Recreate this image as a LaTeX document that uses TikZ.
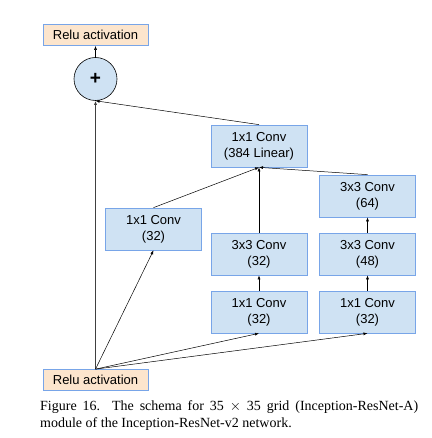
\documentclass[tikz,border=0pt]{standalone}
\usepackage{fontspec}
\setmainfont{Liberation Serif}
\newfontfamily\boxfont{Liberation Sans}
\usetikzlibrary{arrows.meta}
\definecolor{convfill}{RGB}{207,226,243}
\definecolor{convline}{RGB}{120,165,232}
\definecolor{relufill}{RGB}{252,229,205}
\newcommand*{\cv}[2]{#1 Conv\\(#2)}

\begin{document}
\begin{tikzpicture}[x=1pt,y=1pt,
    every node/.style={font=\boxfont\fontsize{13}{16}\selectfont},
    conv/.style={draw=convline,fill=convfill,line width=0.7pt,
      minimum width=96pt,minimum height=42pt,align=center},
    relu/.style={draw=convline,fill=relufill,line width=0.7pt,
      minimum width=105pt,minimum height=21pt},
    addop/.style={circle,draw,fill=convfill,line width=0.6pt,
      minimum size=43pt,inner sep=0pt},
    link/.style={-{Latex[length=4pt,width=3pt]},line width=0.5pt}]
  \useasboundingbox (0,0) rectangle (431,438);
  % blocks (y counted up from the bottom edge)
  \node[relu] (out) at (95.5,403) {Relu activation};
  \node[addop] (add) at (95.5,359) {\fontsize{19}{19}\selectfont\textbf{+}};
  \node[conv] (lin) at (259,292) {\cv{1x1}{384 Linear}};
  \node[conv] (a1) at (153.5,209) {\cv{1x1}{32}};
  \node[conv] (c3) at (367.5,242) {\cv{3x3}{64}};
  \node[conv] (b2) at (259,184) {\cv{3x3}{32}};
  \node[conv] (c2) at (367.5,184) {\cv{3x3}{48}};
  \node[conv] (b1) at (259,126) {\cv{1x1}{32}};
  \node[conv] (c1) at (367.5,126) {\cv{1x1}{32}};
  \node[relu] (in) at (95.5,58) {Relu activation};
  % shortcut
  \draw[link,line width=0.8pt,black!75] (in.north) -- (add.south);
  \foreach \t in {a1,b1,c1}{
    \draw[link] (in.north) -- (\t.south);
  }
  \foreach \s/\t in {b1/b2,c1/c2,c2/c3}{
    \draw[link] (\s) -- (\t);
  }
  \foreach \s in {a1,b2,c3}{
    \draw[link] (\s.north) -- (lin.south);
  }
  \draw[link] (lin.north) -- (add.south);
  \draw[link] (add) -- (out);
  % caption
  \node[anchor=base west,inner sep=0pt,text width=378pt,align=justify,
    font=\rmfamily\fontsize{14}{17}\selectfont] (cap) at (40,27)
    {Figure 16. The schema for 35 $\times$ 35 grid (Inception-ResNet-A)\linebreak
     module of the Inception-ResNet-v2 network.};
\end{tikzpicture}
\end{document}
